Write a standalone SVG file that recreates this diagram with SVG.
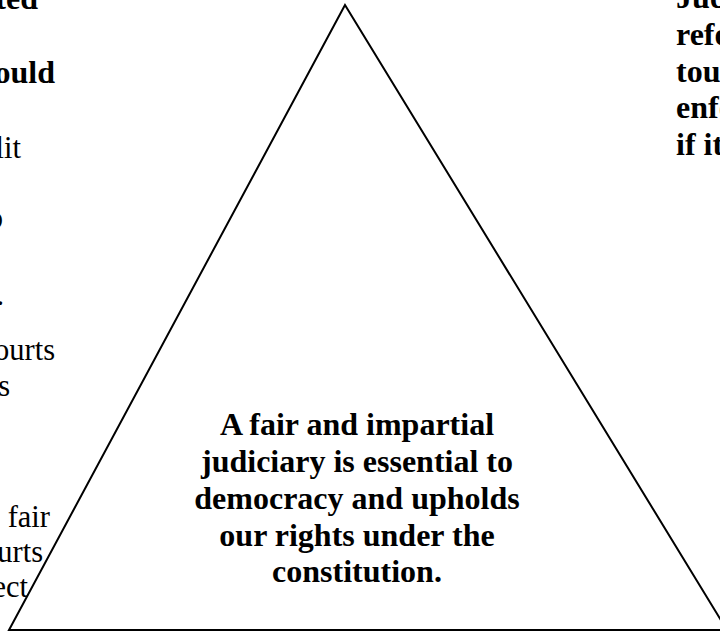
<svg xmlns="http://www.w3.org/2000/svg" width="720" height="631" viewBox="0 0 720 631">
<style>
.b{font-family:"Liberation Serif","Times New Roman",serif;font-weight:bold;font-size:32px;fill:#000}
.r{font-family:"Liberation Serif","Times New Roman",serif;font-size:30.5px;fill:#000}
.tri{fill:none;stroke:#000;stroke-width:2;stroke-linejoin:miter}
</style>
<rect width="720" height="631" fill="#fff"/>
<g id="left-text">
<text class="b" x="38" y="9" text-anchor="end">ted</text>
<text class="b" x="55" y="83" text-anchor="end">ould</text>
<text class="r" x="21" y="158" text-anchor="end">lit</text>
<text class="r" x="3" y="228" text-anchor="end">o</text>
<text class="r" x="4" y="305" text-anchor="end">.</text>
<text class="r" x="55" y="360" text-anchor="end">ourts</text>
<text class="r" x="10" y="396" text-anchor="end">s</text>
<text class="r" x="50" y="527" text-anchor="end">fair</text>
<text class="r" x="43" y="562" text-anchor="end">urts</text>
<text class="r" x="28" y="597" text-anchor="end">ect</text>
</g>
<g id="right-text">
<text class="b" x="676" y="8">Jud</text>
<text class="b" x="676" y="45">refo</text>
<text class="b" x="676" y="82">tou</text>
<text class="b" x="676" y="118">enfo</text>
<text class="b" x="676" y="155">if it</text>
</g>
<g id="triangle">
<polygon class="tri" points="345,5 9,630 727,630"/>
<text class="b" x="357" y="435" text-anchor="middle">A fair and impartial</text>
<text class="b" x="357" y="472" text-anchor="middle">judiciary is essential to</text>
<text class="b" x="357" y="509" text-anchor="middle">democracy and upholds</text>
<text class="b" x="357" y="546" text-anchor="middle">our rights under the</text>
<text class="b" x="357" y="582" text-anchor="middle">constitution.</text>
</g>
</svg>
